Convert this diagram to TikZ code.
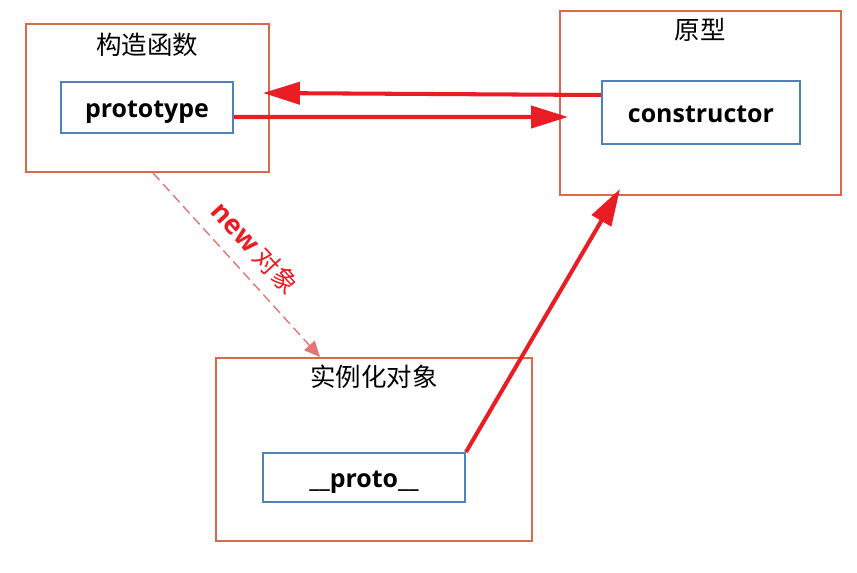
\documentclass[tikz,border=0pt]{standalone}
\usepackage{fontspec}
\setsansfont{Open Sans}
\newfontfamily\cjkfont{Noto Sans CJK SC}
\usetikzlibrary{arrows.meta, positioning}

\definecolor{boxorange}{RGB}{218,104,74}
\definecolor{propblue}{RGB}{79,129,189}
\definecolor{linkred}{RGB}{234,28,36}
\definecolor{newred}{RGB}{228,118,118}

\begin{document}
\begin{tikzpicture}[
        x=0.02cm, y=-0.02cm,
        outerbox/.style={
          rectangle,
          draw=boxorange,
          line width=1.1pt,
          inner sep=0pt
        },
        propbox/.style={
          rectangle,
          draw=propblue,
          line width=1.1pt,
          inner sep=0pt,
          text height=14.2pt,
          text depth=3.1pt,
          font=\sffamily\bfseries\fontsize{14.2}{17}\selectfont
        },
        title/.style={inner sep=0pt, font=\cjkfont\fontsize{14.5}{17}\selectfont},
        link/.style={-{Triangle[length=21pt, width=12.5pt]}, line width=2.3pt, draw=linkred},
        newlink/.style={
          -{Triangle[length=9pt, width=8pt]},
          line width=0.8pt,
          draw=newred,
          dash pattern=on 5.5pt off 3pt
        }
    ]
    \useasboundingbox (0,0) rectangle (857,572);

    % Define the boxes
    \node[outerbox, minimum width=4.86cm, minimum height=2.96cm] (ctorbox) at (147.5,98) {};
    \node[outerbox, minimum width=5.62cm, minimum height=3.68cm] (protobox) at (700.5,103) {};
    \node[outerbox, minimum width=6.32cm, minimum height=3.66cm] (instbox) at (374,449.5) {};

    % Titles
    \node[title] (ctortitle) at (147,45) {构造函数};
    \node[title] (prototitle) at (700,30) {原型};
    \node[title] (insttitle) at (374,377) {实例化对象};

    % Properties
    \node[propbox, minimum width=3.44cm, minimum height=1.02cm] (protoval) at (147,107.5) {prototype};
    \node[propbox, minimum width=3.96cm, minimum height=1.26cm] (ctorval) at (701,112.5) {constructor};
    \node[propbox, minimum width=4.04cm, minimum height=0.98cm] (protolink) at (364,477.5) {\_\_proto\_\_};

    % Arrow ends
    \coordinate (backtip) at (263,93);
    \coordinate (fwdtip) at (568,117);
    \coordinate (uptip) at (620,189);

    % Connect the nodes
    \draw[link] ([yshift=0.35cm]ctorval.west) -- (backtip);
    \draw[link] ([yshift=-0.19cm]protoval.east) -- (fwdtip);
    \draw[link] (protolink.north east) -- (uptip);
    \draw[newlink] ([xshift=0.11cm]ctorbox.south) -- ([xshift=-1.08cm]instbox.north)
        node[midway, sloped, above=4pt, text=linkred] {{\sffamily\bfseries\fontsize{15.5}{18}\selectfont new} {\cjkfont\fontsize{14.5}{17}\selectfont 对象}};

\end{tikzpicture}
\end{document}
